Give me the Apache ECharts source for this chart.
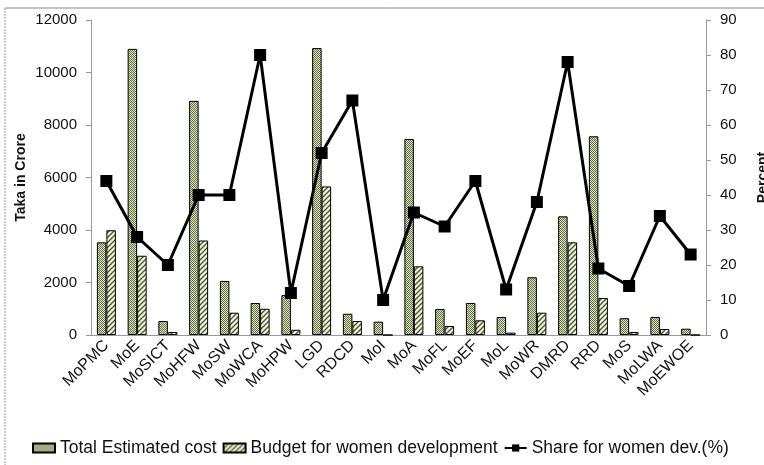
<!DOCTYPE html>
<html>
<head>
<meta charset="utf-8">
<script src="https://cdn.jsdelivr.net/npm/echarts@6/dist/echarts.min.js"></script>
<style>
  html, body { margin: 0; padding: 0; background: #fff; }
  #main { width: 764px; height: 465px; }
</style>
</head>
<body>
<div id="main"></div>
<script>
var ministries = ['MoPMC', 'MoE', 'MoSICT', 'MoHFW', 'MoSW', 'MoWCA', 'MoHPW', 'LGD', 'RDCD', 'MoI',
  'MoA', 'MoFL', 'MoEF', 'MoL', 'MoWR', 'DMRD', 'RRD', 'MoS', 'MoLWA', 'MoEWOE'];
// taka in crore
var totalCost = [3530, 10900, 533, 8920, 2060, 1219, 1520, 10930, 810, 508,
  7467, 990, 1219, 686, 2200, 4520, 7570, 640, 686, 240];
var womenBudget = [3990, 3020, 114, 3600, 850, 1000, 200, 5660, 533, 0,
  2616, 343, 560, 90, 850, 3530, 1410, 114, 229, 0];
// percent
var womenShare = [44, 28, 20, 40, 40, 80, 12, 52, 67, 10,
  35, 31, 44, 13, 38, 78, 19, 14, 34, 23];

// the bars in the picture are textured, so build small fill patterns
function dotPattern() {
  var c = document.createElement('canvas');
  c.width = 2; c.height = 2;
  var g = c.getContext('2d');
  g.fillStyle = '#dbe2c0';
  g.fillRect(0, 0, 2, 2);
  g.fillStyle = '#66724a';
  g.fillRect(0, 0, 1, 1);
  g.fillRect(1, 1, 1, 1);
  return c;
}
function hatchPattern() {
  var c = document.createElement('canvas');
  c.width = 5; c.height = 5;
  var g = c.getContext('2d');
  g.fillStyle = '#f4f6df';
  g.fillRect(0, 0, 5, 5);
  g.strokeStyle = '#4e5730';
  g.lineWidth = 1.4;
  g.beginPath();
  g.moveTo(-1, 6); g.lineTo(6, -1);
  g.moveTo(-1, 1); g.lineTo(1, -1);
  g.moveTo(4, 6); g.lineTo(6, 4);
  g.stroke();
  return c;
}

var chart = echarts.init(document.getElementById('main'));
var font = 'Liberation Sans, Arial, sans-serif';
var plain = function (v) { return String(v); };

var option = {
  animation: false,
  textStyle: { fontFamily: font },
  grid: { left: 91, right: 58, top: 20, bottom: 130, containLabel: false, outerBoundsMode: 'none' },
  legend: {
    bottom: 3,
    left: 27,
    itemGap: 6,
    itemWidth: 22,
    itemHeight: 9,
    textStyle: { fontSize: 17.5, color: '#111', fontFamily: font },
    data: [
      { name: 'Total Estimated cost', icon: 'rect' },
      { name: 'Budget for women development', icon: 'rect' },
      { name: 'Share for women dev.(%)' }
    ]
  },
  xAxis: {
    type: 'category',
    data: ministries,
    axisLine: { lineStyle: { color: '#999' } },
    axisTick: { length: 5, lineStyle: { color: '#999' } },
    axisLabel: { rotate: 45, interval: 0, margin: 8, fontSize: 16, color: '#111' }
  },
  yAxis: [
    {
      type: 'value',
      min: 0, max: 12000, interval: 2000,
      name: 'Taka in Crore',
      nameLocation: 'middle',
      nameGap: 63,
      nameMoveOverlap: false,
      nameTextStyle: { fontWeight: 'bold', fontSize: 14, color: '#111' },
      axisLine: { show: true, lineStyle: { color: '#999' } },
      axisTick: { show: true, length: 5, lineStyle: { color: '#999' } },
      axisLabel: { margin: 14, fontSize: 15, color: '#111', formatter: plain },
      splitLine: { show: false }
    },
    {
      type: 'value',
      min: 0, max: 90, interval: 10,
      name: 'Percent',
      nameLocation: 'middle',
      nameGap: 50,
      nameMoveOverlap: false,
      nameTextStyle: { fontWeight: 'bold', fontSize: 14, color: '#111' },
      axisLine: { show: true, lineStyle: { color: '#999' } },
      axisTick: { show: true, length: 5, lineStyle: { color: '#999' } },
      axisLabel: { margin: 14, fontSize: 15, color: '#111', formatter: plain },
      splitLine: { show: false }
    }
  ],
  series: [
    {
      name: 'Total Estimated cost',
      type: 'bar',
      data: totalCost,
      barWidth: 9.5,
      barGap: '0%',
      itemStyle: {
        color: { image: dotPattern(), repeat: 'repeat' },
        borderColor: '#000',
        borderWidth: 1
      }
    },
    {
      name: 'Budget for women development',
      type: 'bar',
      data: womenBudget,
      barWidth: 9.5,
      itemStyle: {
        color: { image: hatchPattern(), repeat: 'repeat' },
        borderColor: '#000',
        borderWidth: 1
      }
    },
    {
      name: 'Share for women dev.(%)',
      type: 'line',
      yAxisIndex: 1,
      data: womenShare,
      symbol: 'rect',
      symbolSize: 12,
      lineStyle: { color: '#000', width: 3 },
      itemStyle: { color: '#000' }
    }
  ],
  graphic: [
    { type: 'line', shape: { x1: 5, y1: 8, x2: 764, y2: 8 }, style: { stroke: '#888', lineWidth: 1 } },
    { type: 'line', shape: { x1: 5, y1: 8, x2: 5, y2: 465 }, style: { stroke: '#999', lineWidth: 1, lineDash: [2, 1] } }
  ]
};
chart.setOption(option);
</script>
</body>
</html>
